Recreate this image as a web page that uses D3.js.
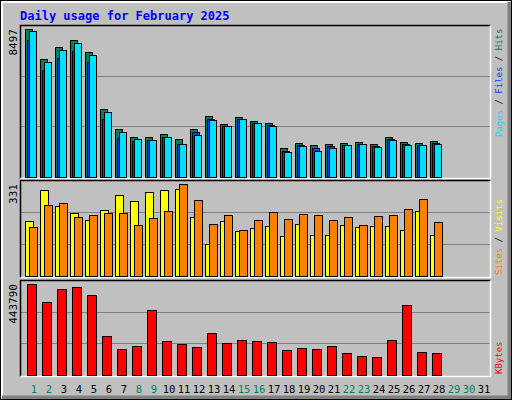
<!DOCTYPE html>
<html>
<head>
<meta charset="utf-8">
<script src="https://cdn.jsdelivr.net/npm/d3@7"></script>
<style>
  body { margin: 0; background: #fff; }
  svg text { font-family: "DejaVu Sans Mono", monospace; }
</style>
</head>
<body>
<svg width="512" height="400"></svg>
<script>
// days of the month shown on the x axis
const days = d3.range(1, 32);
const weekend = [1, 2, 8, 9, 15, 16, 22, 23, 29, 30];

// values (days 1..28)
const hits  = [8497,6771,7461,7864,7173,3894,2743,2282,2282,2455,2167,2743,3491,3030,3433,3203,3088,1649,1937,1822,1880,1937,1995,1880,2282,1995,1937,2052];
const files = [7883,6157,6847,7250,6617,3337,2244,2071,2110,2282,1880,2570,3318,2915,3318,3126,2973,1515,1822,1649,1765,1822,1880,1765,2167,1880,1822,1937];
const pages = [8382,6617,7288,7691,7001,3721,2570,2167,2110,2282,1880,2398,3261,2915,3318,3088,2915,1419,1765,1477,1649,1822,1880,1707,2110,1822,1822,1880];
const sites  = [198,309,252,227,201,237,291,270,302,309,313,212,115,198,162,173,180,144,187,147,147,183,176,180,180,165,234,147];
const visits = [176,255,263,212,219,227,227,183,209,234,331,273,187,219,165,201,230,205,223,219,201,212,183,216,219,241,276,194];
const kbytes = [443790,356000,419400,429200,390100,190200,126800,141400,317000,165800,151200,136600,204800,156100,170700,165800,160900,121900,131700,126800,141400,107300,92700,87800,170700,341400,112200,107300];

const svg = d3.select('svg');

// fundo e moldura externa
svg.append('rect').attr('width', 512).attr('height', 400).attr('fill', '#c0c0c0');
svg.append('path').attr('d', 'M1.5,398.5V1.5H510.5').attr('fill', 'none').attr('stroke', '#fff').attr('stroke-width', 3);
svg.append('path').attr('d', 'M2,397.5H509.5V2').attr('fill', 'none').attr('stroke', '#808080').attr('stroke-width', 4);
svg.append('rect').attr('x', 0.5).attr('y', 0.5).attr('width', 511).attr('height', 399).attr('fill', 'none').attr('stroke', '#000');

svg.append('text').attr('x', 20).attr('y', 20).attr('fill', '#0000ff')
  .attr('font-size', 12).attr('font-weight', 'bold').text('Daily usage for February 2025');

const x = d3.scaleBand().domain(days).range([25, 490]).paddingInner(0);

function panel(top, bottom, max) {
  const y = d3.scaleLinear().domain([0, max]).range([bottom, top + 4]);
  const g = (bottom - top) / 3;
  [1, 2].forEach(k => svg.append('line').attr('x1', 21).attr('x2', 490)
    .attr('y1', Math.round(bottom - g * k) + 0.5).attr('y2', Math.round(bottom - g * k) + 0.5)
    .attr('stroke', '#808080'));
  svg.append('path').attr('d', `M20.5,${bottom + 1.5}V${top + 0.5}H490.5`).attr('fill', 'none').attr('stroke', '#000').attr('stroke-width', 1.5);
  svg.append('path').attr('d', `M20.5,${bottom + 1.5}H490.5V${top + 0.5}`).attr('fill', 'none').attr('stroke', '#fff').attr('stroke-width', 1.5);
  return y;
}

function bars(y, data, off, w, color) {
  svg.append('g').selectAll('rect').data(data).join('rect')
    .attr('x', (d, i) => x(i + 1) + off + 0.5)
    .attr('y', d => Math.round(y(d)) + 0.5)
    .attr('width', w)
    .attr('height', d => Math.round(y.range()[0] - y(d)))
    .attr('fill', color).attr('stroke', '#000');
}

function sideLabels(yTop, yBot, maxLabel, parts) {
  svg.append('text').attr('transform', `translate(17,${yTop + 3}) rotate(-90)`)
    .attr('text-anchor', 'end').attr('font-size', 11).attr('fill', '#000').text(maxLabel);
  const t = svg.append('text').attr('transform', `translate(502,${yBot}) rotate(-90)`)
    .attr('font-size', 9);
  parts.forEach((p, i) => {
    if (i > 0) t.append('tspan').attr('fill', '#000').text(' / ');
    t.append('tspan').attr('fill', p[1]).text(p[0]);
  });
}

// painel superior: hits / files / pages
const y1 = panel(25, 177, 8497 * 1.0);
bars(y1, hits, 0, 7, '#00805c');
bars(y1, files, 2, 7, '#0040ff');
bars(y1, pages, 4, 7, '#00e0ff');
sideLabels(26, 137, '8497', [['Pages', '#00e0ff'], ['Files', '#0040ff'], ['Hits', '#00805c']]);

// painel do meio: sites / visits
const y2 = panel(180, 276, 331 * 1.0);
bars(y2, sites, 0, 8, '#ffff00');
bars(y2, visits, 4, 8, '#ff8000');
sideLabels(181, 275, '331', [['Sites', '#ff8000'], ['Visits', '#ffff00']]);

// painel inferior: kbytes
const y3 = panel(280, 375, 443790 * 1.0);
bars(y3, kbytes, 2, 9, '#ff0000');
sideLabels(281, 374, '443790', [['KBytes', '#ff0000']]);

// rótulos dos dias
svg.append('g').selectAll('text').data(days).join('text')
  .attr('x', d => x(d) + 9).attr('y', 393)
  .attr('text-anchor', 'middle').attr('font-size', 10.5)
  .attr('font-family', '"DejaVu Sans", sans-serif')
  .attr('fill', d => weekend.includes(d) ? '#00805c' : '#000')
  .text(d => d);
</script>
</body>
</html>
